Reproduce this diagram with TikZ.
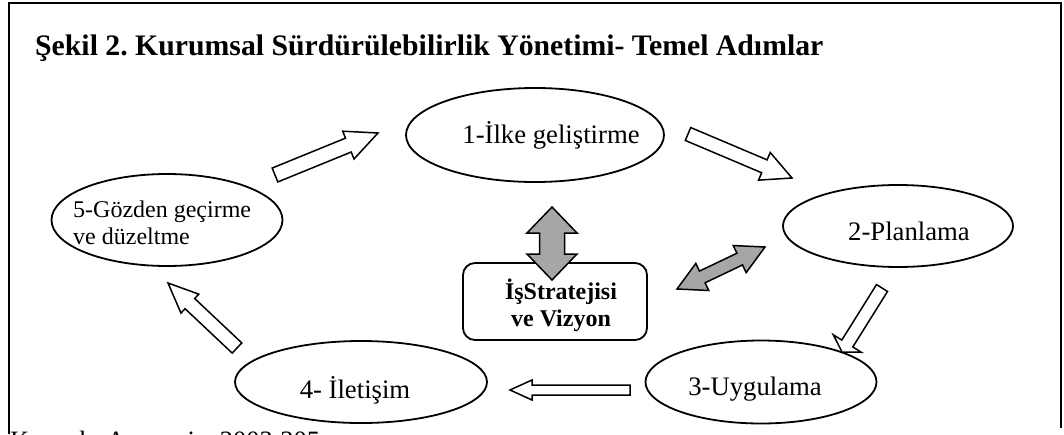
\documentclass[tikz,border=0pt]{standalone}
\usepackage{fontspec}
\setmainfont{Liberation Serif}
\usetikzlibrary{calc,shapes.geometric}
\definecolor{arrgray}{RGB}{166,166,166}
% single block arrow: #1 style, #2 tail, #3 tip, #4 half shaft, #5 half head, #6 head length
\newcommand\blockarr[6]{%
 \draw[#1] let \p1=($(#3)-(#2)$), \n1={atan2(\y1,\x1)}, \n2={veclen(\x1,\y1)} in
  ($(#2)+({\n1+90}:#4)$) -- ($(#2)+(\n1:{\n2-#6})+({\n1+90}:#4)$) -- ($(#2)+(\n1:{\n2-#6})+({\n1+90}:#5)$) -- (#3)
  -- ($(#2)+(\n1:{\n2-#6})+({\n1-90}:#5)$) -- ($(#2)+(\n1:{\n2-#6})+({\n1-90}:#4)$) -- ($(#2)+({\n1-90}:#4)$) -- cycle;}
% double block arrow
\newcommand\dblarr[6]{%
 \draw[#1] let \p1=($(#3)-(#2)$), \n1={atan2(\y1,\x1)}, \n2={veclen(\x1,\y1)} in
  (#2) -- ($(#2)+(\n1:#6)+({\n1+90}:#5)$) -- ($(#2)+(\n1:#6)+({\n1+90}:#4)$) -- ($(#2)+(\n1:{\n2-#6})+({\n1+90}:#4)$)
  -- ($(#2)+(\n1:{\n2-#6})+({\n1+90}:#5)$) -- (#3) -- ($(#2)+(\n1:{\n2-#6})+({\n1-90}:#5)$) -- ($(#2)+(\n1:{\n2-#6})+({\n1-90}:#4)$)
  -- ($(#2)+(\n1:#6)+({\n1-90}:#4)$) -- ($(#2)+(\n1:#6)+({\n1-90}:#5)$) -- cycle;}
\frenchspacing
\begin{document}
\begin{tikzpicture}[x=1pt,y=1pt,
  stage/.style={draw, line width=1.8pt, ellipse, inner sep=0pt},
  lbl/.style={anchor=base, inner sep=0pt, font=\fontsize{26.7}{30}\selectfont},
  hollow/.style={draw, line width=1.5pt, fill=white},
  grayarr/.style={draw, line width=1.5pt, fill=arrgray},
  frame/.style={line width=2pt}]
\useasboundingbox (0,-434) rectangle (1064,0);
\clip (0,-434) rectangle (1064,0);
\draw[frame] (9,-434) -- (9,-3) -- (1061,-3) -- (1061,-428);
\node[anchor=base west, inner sep=0pt, font=\bfseries\fontsize{29.75}{34}\selectfont] (title) at (35,-55)
  {Şekil 2. Kurumsal Sürdürülebilirlik Yönetimi- Temel Adımlar};
% stages
\node[stage, minimum width=258pt, minimum height=94pt] (e1) at (535,-135) {};
\node[stage, minimum width=230pt, minimum height=82pt] (e2) at (898,-226) {};
\node[stage, minimum width=231pt, minimum height=83pt] (e3) at (761,-382) {};
\node[stage, minimum width=252pt, minimum height=82pt] (e4) at (361,-382) {};
\node[stage, minimum width=231pt, minimum height=92pt] (e5) at (167,-220) {};
\node[lbl] (t1) at (551,-143) {1-İlke geliştirme};
\node[lbl] (t2) at (909,-240) {2-Planlama};
\node[lbl] (t3) at (755,-395) {3-Uygulama};
\node[lbl] (t4) at (355,-398) {4- İletişim};
\node[anchor=base west, inner sep=0pt, align=left, font=\fontsize{24}{27}\selectfont] (t5) at (73,-244)
  {5-Gözden geçirme\\ve düzeltme};
% centre box
\node[draw, line width=1.8pt, rounded corners=12pt, minimum width=184pt, minimum height=77pt] (box) at (555,-301.5) {};
\node[anchor=base, inner sep=0pt, align=center, font=\bfseries\fontsize{24}{27}\selectfont] (boxtext) at (561,-326)
  {İşStratejisi\\ve Vizyon};
% arrow end points
\coordinate (aAs) at (275,-175); \coordinate (aAe) at (378,-133);
\coordinate (aBs) at (688,-134); \coordinate (aBe) at (792,-178);
\coordinate (aCs) at (882,-288); \coordinate (aCe) at (842,-352);
\coordinate (aDs) at (630,-390); \coordinate (aDe) at (510,-390);
\coordinate (aEs) at (237,-348); \coordinate (aEe) at (168,-283);
\coordinate (aFs) at (552,-207); \coordinate (aFe) at (552,-280);
\coordinate (aGs) at (677,-289); \coordinate (aGe) at (765,-247);
\blockarr{hollow}{aAs}{aAe}{7.5}{15}{32}
\blockarr{hollow}{aBs}{aBe}{7}{15}{30}
\blockarr{hollow}{aCs}{aCe}{6.5}{16.5}{10}
\blockarr{hollow}{aDs}{aDe}{5}{10}{22}
\blockarr{hollow}{aEs}{aEe}{7}{13}{30}
\dblarr{grayarr}{aFs}{aFe}{12.5}{25}{26}
\dblarr{grayarr}{aGs}{aGe}{6.5}{15}{28}
% source line, cut by the page edge as in the reference
\node[anchor=base west, inner sep=0pt, font=\fontsize{26.5}{30}\selectfont] (src) at (10,-449.5)
  {Kaynak: Azapagic, 2003:305};
\end{tikzpicture}
\end{document}
